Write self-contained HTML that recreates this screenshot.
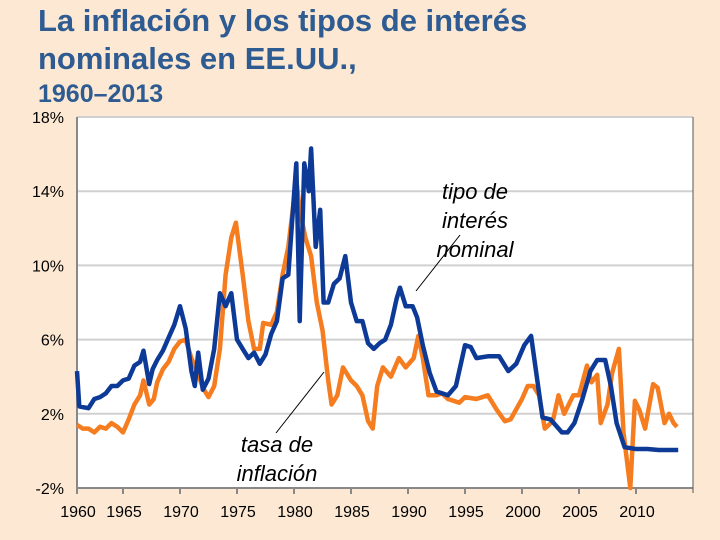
<!DOCTYPE html>
<html><head><meta charset="utf-8"><style>
body{margin:0;background:#fde9d3;}
#wrap{position:relative;width:720px;height:540px;background:#fde9d3;font-family:"Liberation Sans",sans-serif;overflow:hidden}
.t{position:absolute;left:38px;color:#2e5b92;font-weight:bold;margin:0;white-space:nowrap}
</style></head><body>
<div id="wrap">
<div class="t" style="top:3px;font-size:31px">La inflación y los tipos de interés</div>
<div class="t" style="top:41px;font-size:31px">nominales en EE.UU.,</div>
<div class="t" style="top:80px;font-size:25px">1960–2013</div>
<svg id="chart" width="720" height="540" style="position:absolute;left:0;top:0"></svg>
</div>
<script>
const yTicks=[18,14,10,6,2,-2];
const yTickLabels=["18%","14%","10%","6%","2%","-2%"];
const xTicks=[1960,1965,1970,1975,1980,1985,1990,1995,2000,2005,2010];
const xTickLabels=["1960","1965","1970","1975","1980","1985","1990","1995","2000","2005","2010"];
const nomYears=[1961.0,1961.2,1962,1962.5,1963,1963.5,1964,1964.5,1965,1965.5,1966,1966.5,1966.8,1967.3,1967.6,1968,1968.5,1969,1969.5,1970,1970.5,1971,1971.3,1971.6,1972,1972.5,1973,1973.5,1974,1974.5,1975,1975.5,1976,1976.5,1977,1977.5,1978,1978.5,1979,1979.5,1980.2,1980.5,1980.9,1981.3,1981.5,1981.9,1982.3,1982.6,1983,1983.5,1984,1984.5,1985,1985.5,1986,1986.5,1987,1987.5,1988,1988.5,1989,1989.3,1989.8,1990.4,1990.8,1991.3,1991.9,1992.5,1993.5,1994.2,1995,1995.5,1996,1997,1998,1998.8,1999.5,2000.2,2000.8,2001.3,2001.8,2002.5,2003.5,2004,2004.6,2005.3,2006,2006.6,2007.3,2007.8,2008.3,2009,2010,2011,2012,2013.7];
const nomValues=[4.3,2.4,2.3,2.8,2.9,3.1,3.5,3.5,3.8,3.9,4.6,4.8,5.4,3.6,4.4,4.9,5.4,6.1,6.8,7.8,6.6,4.3,3.5,5.3,3.3,3.9,5.5,8.5,7.8,8.5,6.0,5.5,5.0,5.3,4.7,5.2,6.3,7.0,9.3,9.5,15.5,7.0,15.5,14.0,16.3,11.0,13.0,8.0,8.0,9.0,9.3,10.5,8.0,7.0,7.0,5.8,5.5,5.8,6.0,6.8,8.2,8.8,7.8,7.8,7.2,5.7,4.2,3.2,3.0,3.5,5.7,5.6,5.0,5.1,5.1,4.3,4.7,5.7,6.2,4.0,1.8,1.7,1.0,1.0,1.5,2.8,4.3,4.9,4.9,3.5,1.5,0.2,0.1,0.1,0.05,0.05];
const infYears=[1961,1961.5,1962,1962.5,1963,1963.5,1964,1964.5,1965,1965.5,1966,1966.5,1966.8,1967.3,1967.7,1968,1968.5,1969,1969.5,1970,1970.5,1971,1971.5,1972,1972.5,1973,1973.5,1974,1974.5,1974.9,1975.5,1976,1976.5,1977,1977.3,1978,1978.5,1979,1979.5,1980.2,1980.5,1981,1981.5,1982,1982.5,1983,1983.3,1983.8,1984.3,1985,1985.5,1986,1986.5,1986.9,1987.3,1987.8,1988.5,1989.2,1989.8,1990.5,1990.9,1991.3,1991.8,1992.5,1993,1993.5,1994.5,1995,1996,1997,1997.8,1998.5,1999,2000,2000.5,2001,2001.5,2002,2002.7,2003.2,2003.7,2004.5,2005,2005.7,2006.1,2006.6,2006.9,2007.5,2007.9,2008.5,2008.9,2009.5,2009.9,2010.3,2010.8,2011.5,2011.9,2012.5,2012.9,2013.3,2013.6];
const infValues=[1.4,1.2,1.2,1.0,1.3,1.2,1.5,1.3,1.0,1.7,2.5,3.0,3.8,2.5,2.8,3.7,4.4,4.8,5.5,5.9,6.0,5.0,4.3,3.4,2.9,3.5,5.5,9.5,11.5,12.3,9.5,7.0,5.5,5.5,6.9,6.8,7.5,9.5,11.0,14.6,13.0,11.5,10.5,8.0,6.5,3.8,2.5,3.0,4.5,3.8,3.5,3.0,1.6,1.2,3.5,4.5,4.0,5.0,4.5,5.0,6.2,5.0,3.0,3.0,3.1,2.8,2.6,2.9,2.8,3.0,2.2,1.6,1.7,2.8,3.5,3.5,3.0,1.2,1.6,3.0,2.0,3.0,3.0,4.6,3.7,4.1,1.5,2.5,4.2,5.5,1.0,-2.0,2.7,2.2,1.2,3.6,3.4,1.5,2.0,1.5,1.3];

const NS="http://www.w3.org/2000/svg";
const svg=document.getElementById('chart');
const X0=77,X1=693,Y0=117,Y1=488;
function xs(yr){return yr<=1961?X0:(yr<1965?X0+(yr-1961)*(123-X0)/4:294+(yr-1980)*11.4);}
function xt(yr){return yr<=1960?X0:xs(yr);}
function ys(v){return Y0+(18-v)*(Y1-Y0)/20;}
function mk(tag,attrs){const e=document.createElementNS(NS,tag);for(const k in attrs)e.setAttribute(k,attrs[k]);svg.appendChild(e);return e;}

let r=mk('rect',{x:X0,y:Y0,width:X1-X0,height:Y1-Y0,fill:'#ffffff'});


yTicks.forEach((v,i)=>{
  if(v>-2){const g=mk('line',{x1:X0,x2:X1,y1:ys(v),y2:ys(v),stroke:'#d0d0d0','stroke-width':2});
  
  }
  const t=mk('text',{x:64,y:ys(v)+6,'text-anchor':'end','font-size':16,fill:'#000','font-family':'Liberation Sans, sans-serif'});
  t.textContent=yTickLabels[i];
  
  
});
let ax=mk('line',{x1:X0,x2:X0,y1:Y0,y2:Y1,stroke:'#888','stroke-width':2});


let bx=mk('line',{x1:X0,x2:X1,y1:Y1,y2:Y1,stroke:'#888','stroke-width':2});


let rb=mk('line',{x1:X1,x2:X1,y1:Y0,y2:Y1+5,stroke:'#555','stroke-width':1});


xTicks.forEach((yr,i)=>{
  const x=xt(yr);
  const tk=mk('line',{x1:x,x2:x,y1:Y1,y2:Y1+6,stroke:'#888','stroke-width':2});
  
  
  const t=mk('text',{x:x+1,y:517,'text-anchor':'middle','font-size':16,fill:'#000','font-family':'Liberation Sans, sans-serif'});
  t.textContent=xTickLabels[i];
  
  
});
function series(years,vals,color,name){
  const d=years.map((y,i)=>(i?'L':'M')+xs(y).toFixed(1)+' '+ys(vals[i]).toFixed(1)).join(' ');
  const p=mk('path',{d:d,fill:'none',stroke:color,'stroke-width':4.5,'stroke-linejoin':'round'});
  
  
}
series(infYears,infValues,'#f57c1f','inflation-line');
series(nomYears,nomValues,'#0d3a96','nominal-rate-line');
function label(lines,cx,y0,name){
  lines.forEach((s,i)=>{
    const t=mk('text',{x:cx,y:y0+i*29,'text-anchor':'middle','font-size':22,'font-style':'italic',fill:'#000','font-family':'Liberation Sans, sans-serif'});
    t.textContent=s;
    
    
  });
}
label(["tipo de","interés","nominal"],475,199,'nominal-rate-annotation');
label(["tasa de","inflación"],277,452,'inflation-annotation');
let l1=mk('line',{x1:460,y1:235,x2:416,y2:291,stroke:'#000','stroke-width':1});


let l2=mk('line',{x1:324,y1:372,x2:276,y2:433,stroke:'#000','stroke-width':1});


</script>
</body></html>
